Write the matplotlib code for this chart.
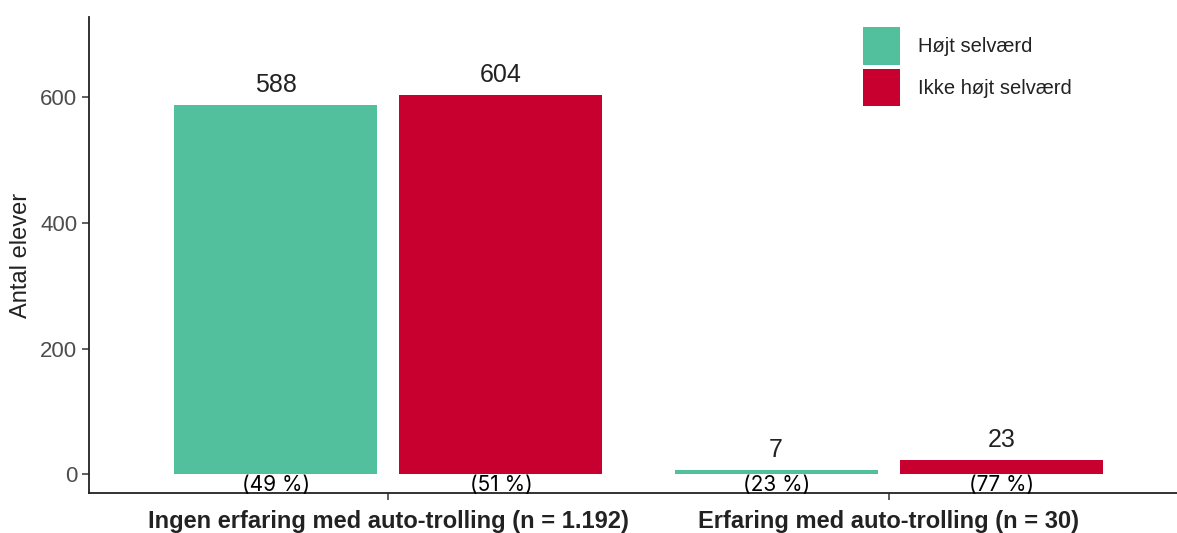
import numpy as np
import matplotlib
matplotlib.use('Agg')
import matplotlib.pyplot as plt
from matplotlib.patches import Patch

# Data
groups = ['Ingen erfaring med auto-trolling (n = 1.192)',
          'Erfaring med auto-trolling (n = 30)']
series = ['Højt selværd', 'Ikke højt selværd']
hojt = [588, 7]
ikke_hojt = [604, 23]
pct_hojt = ['(49 %)', '(23 %)']
pct_ikke = ['(51 %)', '(77 %)']
yticks = [0, 200, 400, 600]

colors = ['#52BF9D', '#C8002F']

plt.rcParams['font.family'] = ['Liberation Sans', 'DejaVu Sans']

fig = plt.figure(figsize=(11.77, 5.33), dpi=100)
ax = fig.add_axes([89 / 1177, 1 - 493 / 533, 1 - 89 / 1177, (493 - 17) / 533])

x = np.arange(1, len(groups) + 1)
off = 0.225
w = 0.406
ax.bar(x - off, hojt, width=w, color=colors[0], zorder=2)
ax.bar(x + off, ikke_hojt, width=w, color=colors[1], zorder=2)

for i in range(len(groups)):
    ax.text(x[i] - off, hojt[i] + 12, str(hojt[i]), ha='center', va='bottom',
            fontsize=18, color='#222222')
    ax.text(x[i] + off, ikke_hojt[i] + 12, str(ikke_hojt[i]), ha='center', va='bottom',
            fontsize=18, color='#222222')
    ax.text(x[i] - off, -17, pct_hojt[i], ha='center', va='center',
            fontsize=15, family='Inter', color='black')
    ax.text(x[i] + off, -17, pct_ikke[i], ha='center', va='center',
            fontsize=15, family='Inter', color='black')

ax.set_xlim(0.402, 2.576)
ax.set_ylim(-30, 728)
ax.set_xticks(x)
ax.set_xticklabels(groups, fontsize=17, fontweight='bold', color='#222222')
ax.set_yticks(yticks)
ax.set_yticklabels([str(v) for v in yticks], fontsize=16, color='#4d4d4d')
ax.set_ylabel('Antal elever', fontsize=17, color='#222222', labelpad=6)

for s in ['top', 'right']:
    ax.spines[s].set_visible(False)
for s in ['left', 'bottom']:
    ax.spines[s].set_color('#222222')
    ax.spines[s].set_linewidth(1.3)
ax.tick_params(axis='both', length=5, width=1.1, color='#333333')
ax.tick_params(axis='x', pad=7)

handles = [Patch(facecolor=colors[0]), Patch(facecolor=colors[1])]
leg = fig.legend(handles, series, loc='upper left', bbox_to_anchor=(845 / 1177, 1 - 9 / 533),
                 frameon=False, fontsize=14.5, handlelength=1.85, handleheight=2.5,
                 handletextpad=0.85, labelspacing=0.2)
for t in leg.get_texts():
    t.set_color('#222222')

fig.savefig('out.png', dpi=100)
